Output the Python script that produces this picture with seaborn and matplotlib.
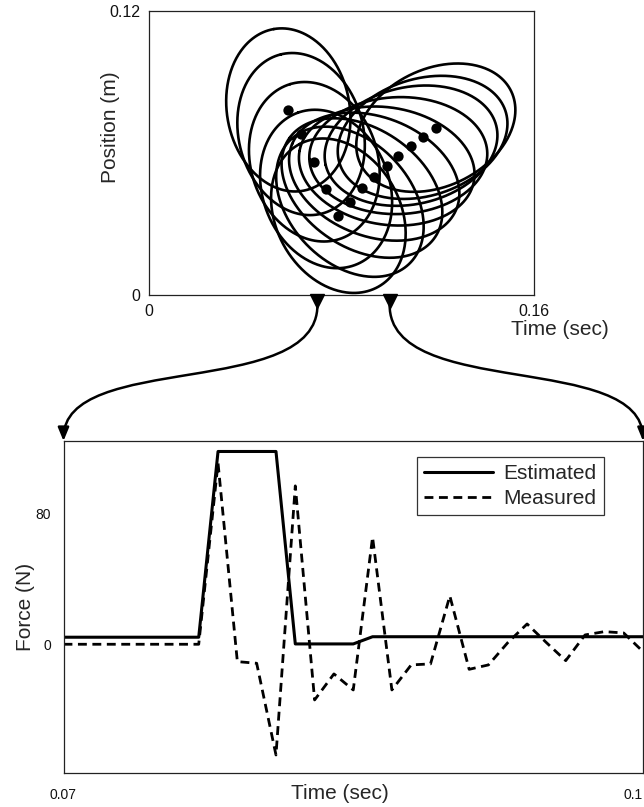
import numpy as np
import matplotlib
matplotlib.use("Agg")
import matplotlib.pyplot as plt
import seaborn as sns
import pandas as pd
from matplotlib.patches import FancyArrowPatch
from matplotlib.path import Path
import matplotlib.transforms as mtransforms

# ---------------- data: top panel (ellipses centred on trajectory points) ----------------
dot_time = [0.0579, 0.0632, 0.0687, 0.0736, 0.0787, 0.0835, 0.0885,
            0.0936, 0.0988, 0.1036, 0.1089, 0.1137, 0.1192]
dot_pos = [0.0782, 0.0680, 0.0563, 0.0448, 0.0335, 0.0394, 0.0452,
           0.0500, 0.0545, 0.0589, 0.0631, 0.0666, 0.0707]
ell_major = [0.0347, 0.0347, 0.0343, 0.0343, 0.0343, 0.0360, 0.0368,
             0.0368, 0.0368, 0.0370, 0.0364, 0.0362, 0.0349]
ell_minor = [0.0255, 0.0259, 0.0264, 0.0264, 0.0259, 0.0255, 0.0251,
             0.0251, 0.0247, 0.0247, 0.0247, 0.0247, 0.0247]
ell_angle = [100, 104, 107, 110, 118, 132, 145, 158, 170, 182, 193, 198, 207]

top_xticks = [0, 0.16]
top_xticklabels = ["0", "0.16"]
top_yticks = [0, 0.12]
top_yticklabels = ["0", "0.12"]

# ---------------- data: bottom panel (force) ----------------
time_s = [0.070, 0.071, 0.072, 0.073, 0.074, 0.075, 0.076, 0.077, 0.078, 0.079,
          0.080, 0.081, 0.082, 0.083, 0.084, 0.085, 0.086, 0.087, 0.088, 0.089,
          0.090, 0.091, 0.092, 0.093, 0.094, 0.095, 0.096, 0.097, 0.098, 0.099, 0.100]
estimated = [4.3, 4.3, 4.3, 4.3, 4.3, 4.3, 4.3, 4.3, 117.7, 117.7,
             117.7, 117.7, 0.2, 0.2, 0.2, 0.2, 4.6, 4.6, 4.6, 4.6,
             4.6, 4.6, 4.6, 4.6, 4.6, 4.6, 4.6, 4.6, 4.6, 4.6, 4.6]
measured = [0.0, 0.0, 0.0, 0.0, 0.0, 0.0, 0.0, 0.0, 110.6, -10.6,
            -11.6, -67.6, 96.7, -34.0, -18.1, -27.9, 65.4, -27.9, -12.6, -12.0,
            29.5, -15.3, -12.6, 1.0, 12.4, 1.0, -10.0, 5.7, 7.7, 6.9, -4.5]
series_names = ["Estimated", "Measured"]
bot_xticks = [0.07, 0.10]
bot_xticklabels = ["0.07", "0.1"]
bot_yticks = [0, 80]
bot_yticklabels = ["0", "80"]
zoom_window = [0.07, 0.10]

# ---------------- style ----------------
sns.set_theme(style="white")
plt.rcParams["font.family"] = ["Liberation Sans", "DejaVu Sans"]
plt.rcParams["axes.edgecolor"] = "#222222"
plt.rcParams["axes.linewidth"] = 0.9

W, H = 644, 807
fig = plt.figure(figsize=(W / 100, H / 100), dpi=100)
ax_top = fig.add_axes([149 / W, 1 - 295 / H, 385 / W, 284 / H])
ax_bot = fig.add_axes([63.5 / W, 1 - 773 / H, 579.5 / W, 332 / H])

# ---- top panel ----
t = np.linspace(0, 2 * np.pi, 400)
for cx, cy, a, b, ang in zip(dot_time, dot_pos, ell_major, ell_minor, ell_angle):
    phi = np.deg2rad(ang)
    ex = cx + a * np.cos(t) * np.cos(phi) - b * np.sin(t) * np.sin(phi)
    ey = cy + a * np.cos(t) * np.sin(phi) + b * np.sin(t) * np.cos(phi)
    ax_top.plot(ex, ey, color="black", lw=1.9, solid_capstyle="round")
sns.scatterplot(x=dot_time, y=dot_pos, ax=ax_top, color="black", s=55,
                edgecolor="black", linewidth=0, zorder=5)
ax_top.set_xlim(0, 0.16)
ax_top.set_ylim(0, 0.12)
ax_top.set_xticks(top_xticks)
ax_top.set_xticklabels(top_xticklabels)
ax_top.set_yticks(top_yticks)
ax_top.set_yticklabels(top_yticklabels)
ax_top.tick_params(length=0, labelsize=11.5, pad=6.5, colors="#111111")
ax_top.set_xlabel("Time (sec)", fontsize=15)
ax_top.xaxis.set_label_coords(1.066, -0.088)
ax_top.set_ylabel("Position (m)", fontsize=15)
ax_top.yaxis.set_label_coords(-0.075, 0.59)

# ---- bottom panel ----
df = pd.DataFrame({"time": time_s * 2,
                   "force": estimated + measured,
                   "series": [series_names[0]] * len(time_s) + [series_names[1]] * len(time_s)})
sns.lineplot(data=df[df.series == series_names[0]], x="time", y="force", ax=ax_bot,
             color="black", lw=2.2, label=series_names[0])
sns.lineplot(data=df[df.series == series_names[1]], x="time", y="force", ax=ax_bot,
             color="black", lw=2.0, label=series_names[1], dashes=False)
ax_bot.lines[1].set_dashes([3.2, 2.0])
ax_bot.set_xlim(0.07, 0.10)
ax_bot.set_ylim(-78.6, 124.1)
ax_bot.set_xticks(bot_xticks)
ax_bot.set_xticklabels(bot_xticklabels)
ax_bot.set_yticks(bot_yticks)
ax_bot.set_yticklabels(bot_yticklabels)
ax_bot.tick_params(length=0, labelsize=10, colors="#111111")
ax_bot.tick_params(axis="y", pad=9)
ax_bot.tick_params(axis="x", pad=11)
ax_bot.get_xticklabels()[-1].set_horizontalalignment("right")
ax_bot.set_xlabel("Time (sec)", fontsize=15)
ax_bot.xaxis.set_label_coords(0.477, -0.033)
ax_bot.set_ylabel("Force (N)", fontsize=15)
ax_bot.yaxis.set_label_coords(-0.049, 0.5)
leg = ax_bot.legend(loc="upper right", bbox_to_anchor=(0.932, 0.953), borderaxespad=0,
                    fontsize=15, frameon=True, fancybox=False, edgecolor="black",
                    handlelength=3.3, handletextpad=0.5, labelspacing=0.3,
                    borderpad=0.35)
leg.get_frame().set_linewidth(0.9)
for h in leg.get_lines():
    h.set_color("black")
leg.get_lines()[1].set_dashes([3.2, 2.0])

# ---- connectors from the zoom window to the lower panel ----
fig.canvas.draw()
start_off = mtransforms.offset_copy(ax_top.transData, fig=fig, x=0, y=-4.5, units="points")
ax_top.plot(zoom_window, [0, 0], ls="none", marker="v", markersize=10, color="black",
            transform=start_off, clip_on=False, zorder=6)
ybot_top = ax_bot.get_ylim()[1]
for xw in zoom_window:
    x0, y0 = ax_top.transData.transform((xw, 0))
    x3, y3 = ax_bot.transData.transform((xw, ybot_top))
    y0 = y0 - 10
    verts = [(x0, y0), (x0, y0 - 95), (x3, y3 + 90), (x3, y3)]
    path = Path(verts, [Path.MOVETO, Path.CURVE4, Path.CURVE4, Path.CURVE4])
    arr = FancyArrowPatch(path=path, arrowstyle="-|>,head_length=0.8,head_width=0.33",
                          mutation_scale=10, color="black", lw=1.8,
                          transform=mtransforms.IdentityTransform(),
                          shrinkA=0, shrinkB=0)
    fig.add_artist(arr)

fig.savefig("out.png", dpi=100)
